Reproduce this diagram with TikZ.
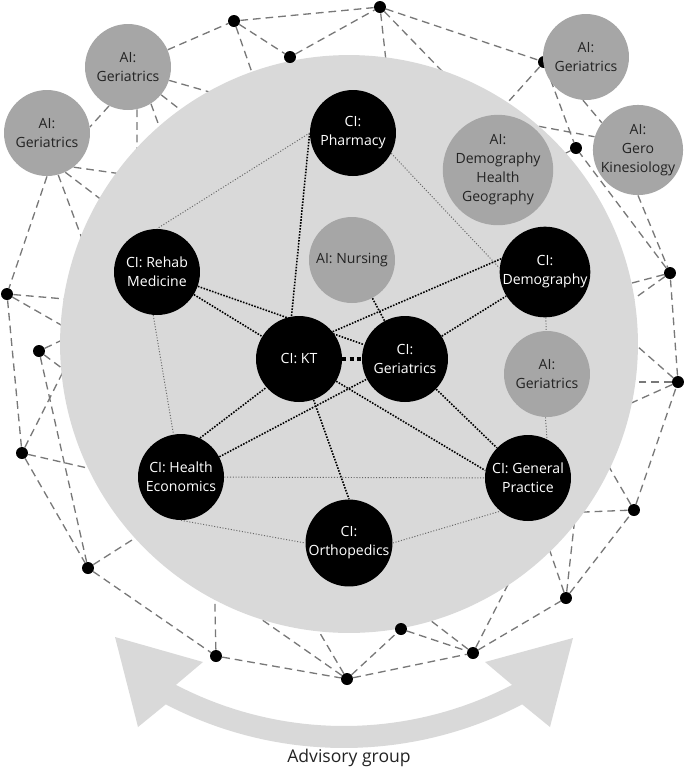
\documentclass[tikz,border=0pt]{standalone}
\usepackage{fontspec}
\setmainfont{Open Sans}
\usepackage{xcolor}
\usetikzlibrary{calc}
\definecolor{discgray}{RGB}{217,217,217}
\definecolor{aigray}{RGB}{166,166,166}
\definecolor{webgray}{RGB}{120,120,120}
\definecolor{linkgray}{RGB}{105,105,105}
\definecolor{inkgray}{RGB}{35,35,35}
\pgfdeclarelayer{web}
\pgfdeclarelayer{disc}
\pgfdeclarelayer{links}
\pgfsetlayers{web,disc,links,main}

\begin{document}
\begin{tikzpicture}[
  x=0.02cm, y=-0.02cm,
  member/.style={circle, inner sep=0pt, minimum size=1.72cm, align=center,
                 font=\fontsize{8}{10.8}\selectfont},
  ci/.style={member, fill=black, text=white},
  ai/.style={member, fill=aigray, text=inkgray},
  hub/.style={circle, fill=black, inner sep=0pt, minimum size=0.24cm},
  webline/.style={draw=webgray, line width=0.75pt, dash pattern=on 4.4pt off 2.8pt},
  darklink/.style={draw=black, line width=0.9pt, dash pattern=on 0.9pt off 0.8pt},
  greylink/.style={draw=linkgray, line width=0.55pt, dash pattern=on 0.6pt off 1pt},
  boldlink/.style={draw=black, line width=2.3pt, dash pattern=on 2.3pt off 1.8pt}
]
  \useasboundingbox (0,0) rectangle (685,769);

  % Core team
  \node[ci] (pharm)  at (353,133) {CI:\\Pharmacy};
  \node[ci] (rehab)  at (157,272) {CI: Rehab\\Medicine};
  \node[ci] (demog)  at (545,272) {CI:\\Demography};
  \node[ci] (kt)     at (299,359) {CI: KT};
  \node[ci] (geri)   at (405,359) {CI:\\Geriatrics};
  \node[ci] (heco)   at (181,477) {CI: Health\\Economics};
  \node[ci] (gp)     at (528,478) {CI: General\\Practice};
  \node[ci] (ortho)  at (349,543) {CI:\\Orthopedics};
  \node[ai] (nursing) at (352,260) {AI: Nursing};
  \node[ai] (demohg)  at (498,170) {AI:\\Demography\\Health\\Geography};
  \node[ai] (geriD)   at (547,374) {AI:\\Geriatrics};

  % Wider network
  \node[hub] (p1)  at (234,21)  {};
  \node[hub] (p2)  at (290,57)  {};
  \node[hub] (p3)  at (380,7)   {};
  \node[hub] (p4)  at (544,62)  {};
  \node[hub] (p5)  at (576,148) {};
  \node[hub] (p6)  at (670,273) {};
  \node[hub] (p7)  at (678,382) {};
  \node[hub] (p8)  at (634,510) {};
  \node[hub] (p9)  at (566,598) {};
  \node[hub] (p10) at (473,653) {};
  \node[hub] (p11) at (401,629) {};
  \node[hub] (p12) at (347,679) {};
  \node[hub] (p13) at (216,656) {};
  \node[hub] (p14) at (88,568)  {};
  \node[hub] (p15) at (22,453)  {};
  \node[hub] (p16) at (39,351)  {};
  \node[hub] (p17) at (7,294)   {};
  \node[ai] (geriA) at (128,67)  {AI:\\Geriatrics};
  \node[ai] (geriB) at (47,133)  {AI:\\Geriatrics};
  \node[ai] (geriC) at (586,57)  {AI:\\Geriatrics};
  \node[ai] (gero)  at (638,150) {AI:\\Gero\\Kinesiology};

  \begin{pgfonlayer}{web}
    \foreach \a/\b in {geriA/p1, p1/p3, p1/p2, p2/p3, p3/p4, geriA.-116/geriB.8,
        geriB.-90/p17, p17/p15, p16/p14, p15/p14, p14/p13, p13/p12, p12/p11,
        p12/p10, p11/p10, p10/p9, p9/p8, p8/p7, p7/p6, p6/p5, gero.-90/p6,
        geriC.-94/gero.143, p4/p5}
      \draw[webline] (\a) -- (\b);
    % ends hidden under the disc
    \foreach \src/\x/\y [count=\i] in {p1/264/107, p3/390/97, p3/470/100,
        p4/482/131, p5/536/168, geriA.-18/227/97, geriA.-40/214/136,
        geriA.-58/174/167, geriA.-78/137/190, geriB.-52/150/178,
        geriB.-65/124/217, geriB.-75/90/260, p17/100/302, p17/103/349,
        p16/98/323, p16/99/396, p15/73/352, p15/118/475, p14/176/512,
        p13/214/560, p12/205/580, p12/301/601, p10/396/594, p10/519/563,
        p9/578/490, p9/540/522, p8/560/513, p8/590/434, p7/600/382,
        p7/612/324, p7/598/418, p6/594/293, p6/600/323} {
      \coordinate (in\i) at (\x,\y);
      \draw[webline] (\src) -- (in\i);
    }
    \coordinate (geroin) at (489,117);
    \draw[webline] (geroin) -- (gero.163);
  \end{pgfonlayer}

  \begin{pgfonlayer}{disc}
    \node[circle, fill=discgray, minimum size=11.56cm, inner sep=0pt] (disc) at (349,344) {};
    % Advisory arrow
    \fill[discgray] (115,637) -- (203,662)
      -- plot[domain=117.5:62.5, samples=40] ({344+364*cos(\x)},{362+364*sin(\x)})
      -- (485,662) -- (573,638) -- (550,727)
      -- plot[domain=62.5:117.5, samples=40] ({344+386*cos(\x)},{362+386*sin(\x)})
      -- (138,727) -- cycle;
  \end{pgfonlayer}

  \begin{pgfonlayer}{links}
    \draw[darklink] (pharm.west) -- (kt.100);
    \draw[darklink] (rehab) -- (kt);
    \draw[darklink] (rehab) -- (geri);
    \draw[darklink] (kt.39) -- (demog.163);
    \draw[darklink] (geri) -- (demog);
    \draw[darklink] (nursing) -- (geri);
    \draw[darklink] (kt) -- (gp.170);
    \draw[darklink] (geri) -- (gp);
    \draw[darklink] (heco) -- (geri);
    \draw[darklink] (heco.64) -- (kt.-139);
    \draw[darklink] (kt) -- (ortho.north);
    \draw[boldlink] (kt) -- (geri);
  \end{pgfonlayer}

  \draw[greylink] (pharm.west) -- (rehab.north);
  \draw[greylink] (pharm.-28) -- (demog.175);
  \draw[greylink] (rehab.-95) -- (heco.100);
  \draw[greylink] (heco) -- (gp);
  \draw[greylink] (heco.-90) -- (ortho.west);
  \draw[greylink] (ortho.east) -- (gp.-130);
  \draw[greylink] (demog) -- (geriD);
  \draw[greylink] (geriD.-92) -- (gp.64);

  \node[font=\fontsize{10}{12}\selectfont, text=inkgray] (advisory) at (349,758) {Advisory group};
\end{tikzpicture}
\end{document}
